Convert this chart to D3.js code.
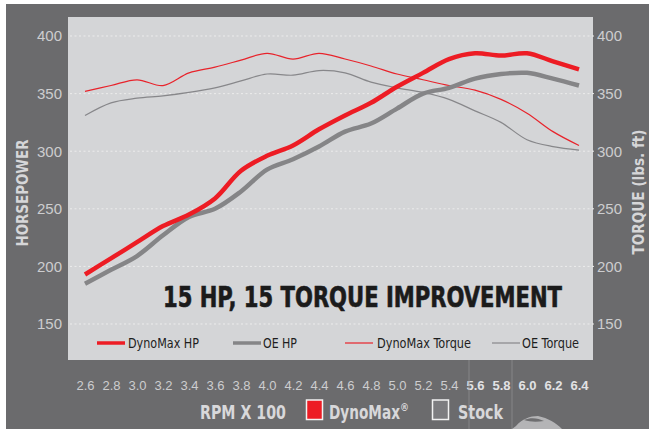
<!DOCTYPE html>
<html>
<head>
<meta charset="utf-8">
<script src="https://cdn.jsdelivr.net/npm/d3@7"></script>
<style>
  body { margin: 0; background: #fff; }
  svg { display: block; }
  .narrow { font-family: "Liberation Sans Narrow", "Arial Narrow", "DejaVu Sans Condensed", sans-serif; font-stretch: condensed; }
</style>
</head>
<body>
<script>
var width = 649,
  height = 429;

// rpm x 100
var rpm = [2.6, 2.8, 3.0, 3.2, 3.4, 3.6, 3.8, 4.0, 4.2, 4.4, 4.6, 4.8, 5.0, 5.2, 5.4, 5.6, 5.8, 6.0, 6.2, 6.4];
var dynomaxHp = [193, 207, 221, 235, 245, 259, 283, 296, 305, 319, 331, 342, 356, 368, 380, 385, 383, 385, 378, 371];
var oeHp = [185, 197, 209, 227, 243, 250, 265, 284, 293, 304, 317, 324, 337, 350, 355, 363, 367, 368, 363, 357];
var dynomaxTorque = [352, 357, 362, 357, 368, 373, 379, 385, 380, 385, 380, 374, 367, 362, 357, 353, 345, 333, 317, 305];
var oeTorque = [331, 342, 346, 348, 351, 355, 361, 367, 366, 370, 368, 360, 355, 351, 345, 335, 325, 310, 304, 301];

var hpTicks = [150, 200, 250, 300, 350, 400];
var torqueTicks = [150, 200, 250, 300, 350, 400];

var seriesNames = ["DynoMax HP", "OE HP", "DynoMax Torque", "OE Torque"];
var headline = "15 HP, 15 TORQUE IMPROVEMENT";

var series = [
  { name: seriesNames[0], values: dynomaxHp, color: "#ed1c24", w: 4.5, axis: "hp" },
  { name: seriesNames[1], values: oeHp, color: "#858587", w: 4.5, axis: "hp" },
  { name: seriesNames[2], values: dynomaxTorque, color: "#e8232b", w: 1.2, axis: "tq" },
  { name: seriesNames[3], values: oeTorque, color: "#87878a", w: 1.2, axis: "tq" }
];

var plot = { left: 68, top: 17, right: 593, bottom: 360 };

var svg = d3.select("body").append("svg").attr("width", width).attr("height", height);

// frame + plot panel
svg.append("rect").attr("x", 6).attr("y", 4).attr("width", width - 6).attr("height", height - 4).attr("fill", "#6b6b6d");
svg.append("rect")
  .attr("x", plot.left).attr("y", plot.top)
  .attr("width", plot.right - plot.left).attr("height", plot.bottom - plot.top)
  .attr("fill", "#d4d5d7");

var xScale = d3.scaleLinear().domain([2.6, 6.4]).range([85, 579]);
var hpScale = d3.scaleLinear().domain([150, 400]).range([324, 36]);
var tqScale = d3.scaleLinear().domain([150, 400]).range([324, 36]);

// grid
svg.append("g")
  .selectAll("line")
  .data(hpTicks)
  .enter()
  .append("line")
  .attr("x1", plot.left + 2)
  .attr("x2", plot.right + 2)
  .attr("y1", (d) => hpScale(d))
  .attr("y2", (d) => hpScale(d))
  .attr("stroke", "#ececec")
  .attr("stroke-width", 1)
  .attr("stroke-dasharray", "2,2.5");

// axes
var yLeft = d3.axisLeft(hpScale).tickValues(hpTicks).tickSize(0).tickPadding(6);
var yRight = d3.axisRight(tqScale).tickValues(torqueTicks).tickSize(0).tickPadding(4);
var xAxis = d3.axisBottom(xScale).tickValues(rpm).tickSize(0).tickPadding(21).tickFormat(d3.format(".1f"));

function styleAxis(g, size) {
  g.select(".domain").remove();
  g.selectAll("text")
    .attr("fill", "#cdcdcf")
    .style("font-family", "'Liberation Sans', Arial, sans-serif")
    .style("font-size", size + "px");
}

svg.append("g").attr("transform", `translate(${plot.left},0)`).call(yLeft).call((g) => styleAxis(g, 15));
svg.append("g").attr("transform", `translate(${plot.right},0)`).call(yRight).call((g) => styleAxis(g, 15));
svg.append("g").attr("transform", `translate(0,${plot.bottom})`).call(xAxis)
  .call((g) => styleAxis(g, 13))
  .call((g) => g.selectAll("text").filter((d) => d >= 5.55).attr("fill", "#e2e2e4").style("font-weight", "bold"));

// lines
var line = d3.line().curve(d3.curveCatmullRom.alpha(0.5));

svg.append("g")
  .selectAll("path")
  .data(series.slice().reverse())
  .enter()
  .append("path")
  .attr("fill", "none")
  .attr("stroke", (d) => d.color)
  .attr("stroke-width", (d) => d.w)
  .attr("stroke-linejoin", "round")
  .attr("d", (d) => {
    var s = d.axis === "hp" ? hpScale : tqScale;
    return line(d.values.map((v, i) => [xScale(rpm[i]), s(v)]));
  });

// headline
svg.append("text")
  .attr("class", "narrow")
  .attr("x", 163).attr("y", 307)
  .attr("textLength", 399).attr("lengthAdjust", "spacingAndGlyphs")
  .attr("fill", "#1b1b1b")
  .attr("stroke", "#1b1b1b").attr("stroke-width", 0.6)
  .style("font-size", "28px").style("font-weight", "bold")
  .text(headline);

// legend
var legendPos = [
  { x: 97, tx: 128, tw: 71 },
  { x: 233, tx: 263, tw: 34 },
  { x: 345, tx: 377, tw: 94 },
  { x: 492, tx: 522, tw: 57 }
];
var legend = svg.append("g").selectAll("g").data(series).enter().append("g");
legend.append("line")
  .attr("x1", (d, i) => legendPos[i].x)
  .attr("x2", (d, i) => legendPos[i].x + 28)
  .attr("y1", 343).attr("y2", 343)
  .attr("stroke", (d) => d.color)
  .attr("stroke-width", (d) => (d.w > 2 ? 3.5 : 1.2));
legend.append("text")
  .attr("class", "narrow")
  .attr("x", (d, i) => legendPos[i].tx)
  .attr("y", 348)
  .attr("textLength", (d, i) => legendPos[i].tw)
  .attr("lengthAdjust", "spacingAndGlyphs")
  .attr("fill", "#1e1e1e")
  .style("font-size", "14px")
  .text((d) => d.name);

// axis titles
svg.append("text")
  .attr("class", "narrow")
  .attr("transform", "translate(28,193) rotate(-90)")
  .attr("text-anchor", "middle")
  .attr("textLength", 107).attr("lengthAdjust", "spacingAndGlyphs")
  .attr("fill", "#d6d6d8")
  .style("font-size", "16px").style("font-weight", "bold")
  .text("HORSEPOWER");

svg.append("text")
  .attr("class", "narrow")
  .attr("transform", "translate(644,192) rotate(-90)")
  .attr("text-anchor", "middle")
  .attr("textLength", 125).attr("lengthAdjust", "spacingAndGlyphs")
  .attr("fill", "#d6d6d8")
  .style("font-size", "16px").style("font-weight", "bold")
  .text("TORQUE (lbs. ft)");

// decorative thin lines and product photo edge
svg.append("line").attr("x1", 469).attr("x2", 469).attr("y1", plot.bottom).attr("y2", height).attr("stroke", "#8e8e90").attr("stroke-width", 0.8);
svg.append("line").attr("x1", 512).attr("x2", 512).attr("y1", plot.bottom).attr("y2", height).attr("stroke", "#8e8e90").attr("stroke-width", 0.8);
svg.append("path")
  .attr("d", "M516,426 C522,419 530,416 538,416 C548,418 556,423 562,429 L512,429 Z")
  .attr("fill", "#b4b4b6");
svg.append("path")
  .attr("d", "M524,420 C531,417 538,418 544,421 C537,422 530,422 524,420 Z")
  .attr("fill", "#6e6e70");

// bottom legend
svg.append("text")
  .attr("class", "narrow")
  .attr("x", 200).attr("y", 419)
  .attr("textLength", 86).attr("lengthAdjust", "spacingAndGlyphs")
  .attr("fill", "#d8d8da")
  .style("font-size", "19px").style("font-weight", "bold")
  .text("RPM X 100");

svg.append("rect").attr("x", 306.5).attr("y", 400).attr("width", 16).attr("height", 19.5)
  .attr("fill", "#ed1c24").attr("stroke", "#f2f2f2").attr("stroke-width", 1.5);
svg.append("text")
  .attr("class", "narrow")
  .attr("x", 329).attr("y", 419)
  .attr("fill", "#d8d8da")
  .style("font-size", "19px").style("font-weight", "bold")
  .call((t) => {
    t.append("tspan").attr("textLength", 71).attr("lengthAdjust", "spacingAndGlyphs").text("DynoMax");
    t.append("tspan").attr("dy", -8).style("font-size", "10px").text("®");
  });

svg.append("rect").attr("x", 432.5).attr("y", 400).attr("width", 16).attr("height", 19.5)
  .attr("fill", "#7c7c7f").attr("stroke", "#f2f2f2").attr("stroke-width", 1.5);
svg.append("text")
  .attr("class", "narrow")
  .attr("x", 458).attr("y", 419)
  .attr("textLength", 45).attr("lengthAdjust", "spacingAndGlyphs")
  .attr("fill", "#d8d8da")
  .style("font-size", "19px").style("font-weight", "bold")
  .text("Stock");
</script>
</body>
</html>
